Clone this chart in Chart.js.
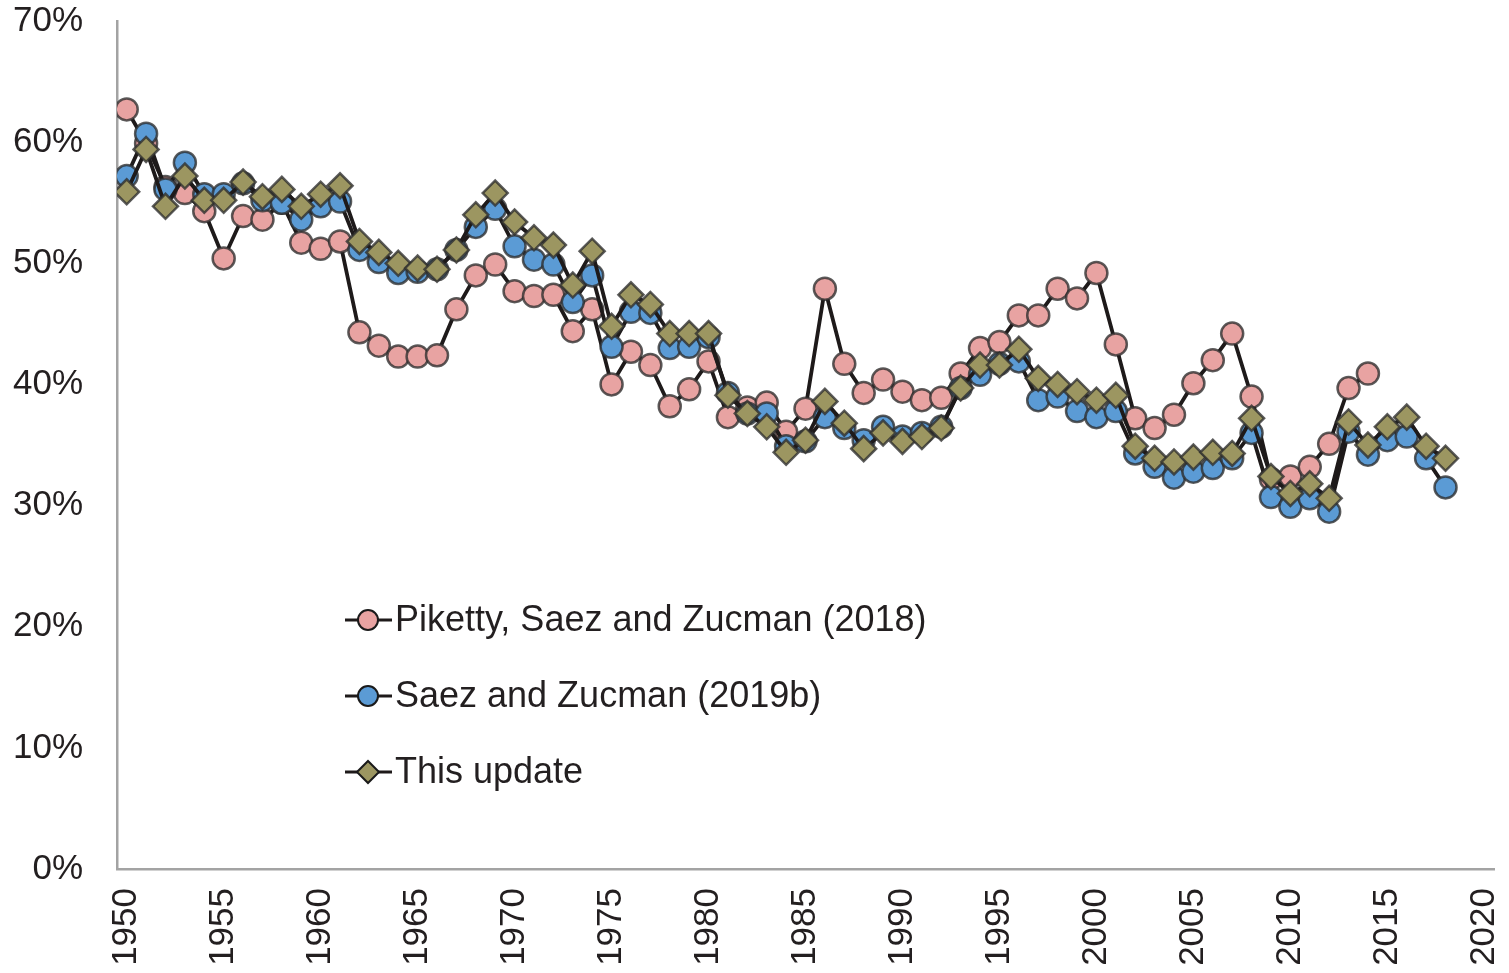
<!DOCTYPE html>
<html>
<head>
<meta charset="utf-8">
<script src="https://cdn.jsdelivr.net/npm/chart.js@4.4.1/dist/chart.umd.min.js"></script>
<style>
  html, body { margin: 0; padding: 0; background: #ffffff; }
  #wrap { position: relative; width: 1509px; height: 973px; }
</style>
</head>
<body>
<div id="wrap"><canvas id="c"></canvas></div>
<script>
// ---- Data (percent) ----
const seriesLabels = ["Piketty, Saez and Zucman (2018)", "Saez and Zucman (2019b)", "This update"];
const yearsPSZ = Array.from({length: 65}, (_, i) => 1950 + i);   // 1950-2014
const yearsSZ  = Array.from({length: 69}, (_, i) => 1950 + i);   // 1950-2018
const yearsUpd = Array.from({length: 69}, (_, i) => 1950 + i);   // 1950-2018

const valuesPSZ = [
  62.7, 59.9, 56.3, 55.8, 54.3, 50.4, 53.9, 53.6, 55.0, 51.7,
  51.2, 51.8, 44.3, 43.2, 42.3, 42.3, 42.4, 46.2, 49.0, 49.9,
  47.7, 47.3, 47.4, 44.4, 46.2, 40.0, 42.7, 41.6, 38.2, 39.6,
  41.9, 37.3, 38.1, 38.5, 36.1, 38.0, 47.9, 41.7, 39.3, 40.4,
  39.4, 38.7, 38.9, 40.9, 43.0, 43.5, 45.7, 45.7, 47.9, 47.1,
  49.2, 43.3, 37.2, 36.4, 37.5, 40.1, 42.0, 44.2, 39.0, 32.2,
  32.4, 33.2, 35.1, 39.7, 40.9
];
const valuesSZ = [
  57.2, 60.7, 56.1, 58.3, 55.7, 55.7, 56.6, 55.2, 55.0, 53.6,
  54.7, 55.1, 51.1, 50.1, 49.2, 49.3, 49.5, 51.1, 53.0, 54.5,
  51.4, 50.3, 49.9, 46.8, 49.0, 43.1, 46.0, 45.9, 43.0, 43.1,
  43.9, 39.3, 37.6, 37.6, 34.9, 35.3, 37.3, 36.4, 35.4, 36.5,
  35.7, 36.0, 36.5, 39.7, 40.8, 41.7, 41.9, 38.7, 39.0, 37.8,
  37.3, 37.8, 34.3, 33.2, 32.3, 32.8, 33.1, 33.9, 36.0, 30.7,
  29.9, 30.6, 29.5, 36.1, 34.2, 35.4, 35.7, 33.9, 31.5
];
const valuesUpd = [
  55.9, 59.4, 54.7, 57.2, 55.2, 55.2, 56.7, 55.5, 56.1, 54.7,
  55.7, 56.4, 51.8, 50.9, 50.0, 49.6, 49.5, 51.1, 54.0, 55.8,
  53.4, 52.1, 51.5, 48.2, 51.0, 44.8, 47.4, 46.6, 44.2, 44.2,
  44.2, 39.1, 37.6, 36.5, 34.4, 35.4, 38.6, 36.8, 34.7, 36.0,
  35.3, 35.7, 36.4, 39.7, 41.6, 41.6, 42.9, 40.5, 40.0, 39.4,
  38.7, 39.1, 34.9, 33.9, 33.6, 34.0, 34.4, 34.3, 37.2, 32.4,
  31.0, 31.8, 30.6, 36.9, 35.0, 36.5, 37.3, 34.9, 33.9
];
const xTickYears = [1950, 1955, 1960, 1965, 1970, 1975, 1980, 1985, 1990, 1995, 2000, 2005, 2010, 2015, 2020];
const yTickValues = [0, 10, 20, 30, 40, 50, 60, 70];

// ---- Styling ----
const FONT = "'Liberation Sans', Arial, sans-serif";
const TEXT = "#231F20";
const AXIS = "#A3A3A3";
const LINE = "#1E1A1A";
const MARK_BORDER = "rgba(45,45,45,0.78)";

const toXY = (xs, ys) => xs.map((x, i) => ({x: x, y: ys[i]}));

const legendPlugin = {
  id: 'insideLegend',
  afterDraw(chart) {
    const ctx = chart.ctx;
    const x0 = 345, x1 = 392, mx = 368, tx = 395;
    const ys = [620, 696, 772];
    chart.data.datasets.forEach((ds, i) => {
      const y = ys[i];
      ctx.save();
      ctx.strokeStyle = LINE;
      ctx.lineWidth = 3;
      ctx.beginPath();
      ctx.moveTo(x0, y); ctx.lineTo(x1, y);
      ctx.stroke();
      ctx.fillStyle = ds.pointBackgroundColor;
      ctx.strokeStyle = "#1a1a1a";
      ctx.lineWidth = 2;
      Chart.helpers.drawPoint(ctx, {
        pointStyle: ds.pointStyle,
        radius: ds.pointStyle === 'rectRot' ? 11 : 10,
        borderWidth: 2,
        rotation: 0
      }, mx, y);
      ctx.fillStyle = TEXT;
      ctx.font = "36px " + FONT;
      ctx.textBaseline = 'middle';
      ctx.textAlign = 'left';
      ctx.fillText(ds.label, tx, y + 1);
      ctx.restore();
    });
  }
};

new Chart(document.getElementById('c'), {
  type: 'line',
  data: {
    datasets: [
      {
        label: seriesLabels[0],
        data: toXY(yearsPSZ, valuesPSZ),
        borderColor: LINE, borderWidth: 3.8,
        pointStyle: 'circle', pointRadius: 11, pointHoverRadius: 11,
        pointBackgroundColor: '#E8A3A2', pointBorderColor: MARK_BORDER, pointBorderWidth: 2.5,
        order: 3, tension: 0
      },
      {
        label: seriesLabels[1],
        data: toXY(yearsSZ, valuesSZ),
        borderColor: LINE, borderWidth: 3.8,
        pointStyle: 'circle', pointRadius: 11, pointHoverRadius: 11,
        pointBackgroundColor: '#5B9BD5', pointBorderColor: MARK_BORDER, pointBorderWidth: 2.5,
        order: 2, tension: 0
      },
      {
        label: seriesLabels[2],
        data: toXY(yearsUpd, valuesUpd),
        borderColor: LINE, borderWidth: 3.8,
        pointStyle: 'rectRot', pointRadius: 12.5, pointHoverRadius: 12.5,
        pointBackgroundColor: '#9C9661', pointBorderColor: MARK_BORDER, pointBorderWidth: 2.5,
        order: 1, tension: 0
      }
    ]
  },
  options: {
    responsive: true,
    maintainAspectRatio: false,
    animation: false,
    events: [],
    layout: { padding: { top: 21, right: 14, left: 0, bottom: 0 } },
    plugins: { legend: { display: false }, tooltip: { enabled: false } },
    scales: {
      x: {
        type: 'linear',
        min: 1949.5, max: 2020.5,
        grid: { display: false, drawTicks: false },
        border: { display: true, color: AXIS, width: 2.5 },
        afterBuildTicks: (s) => { s.ticks = xTickYears.map(v => ({value: v})); },
        afterFit: (s) => { s.height = 104; s.paddingLeft = 0; s.paddingRight = 0; s.paddingTop = 0; s.paddingBottom = 0; },
        ticks: {
          autoSkip: false, minRotation: 90, maxRotation: 90, padding: 19,
          color: TEXT, font: { family: FONT, size: 35 },
          callback: (v) => String(v)
        }
      },
      y: {
        type: 'linear',
        min: 0, max: 70,
        grid: { display: false, drawTicks: false },
        border: { display: true, color: AXIS, width: 2.5 },
        afterBuildTicks: (s) => { s.ticks = yTickValues.map(v => ({value: v})); },
        afterFit: (s) => { s.width = 117; s.paddingLeft = 0; s.paddingRight = 0; s.paddingTop = 0; s.paddingBottom = 0; },
        ticks: {
          padding: 34, color: TEXT, font: { family: FONT, size: 35 },
          callback: (v) => v + '%'
        }
      }
    }
  },
  plugins: [legendPlugin]
});
</script>
</body>
</html>
